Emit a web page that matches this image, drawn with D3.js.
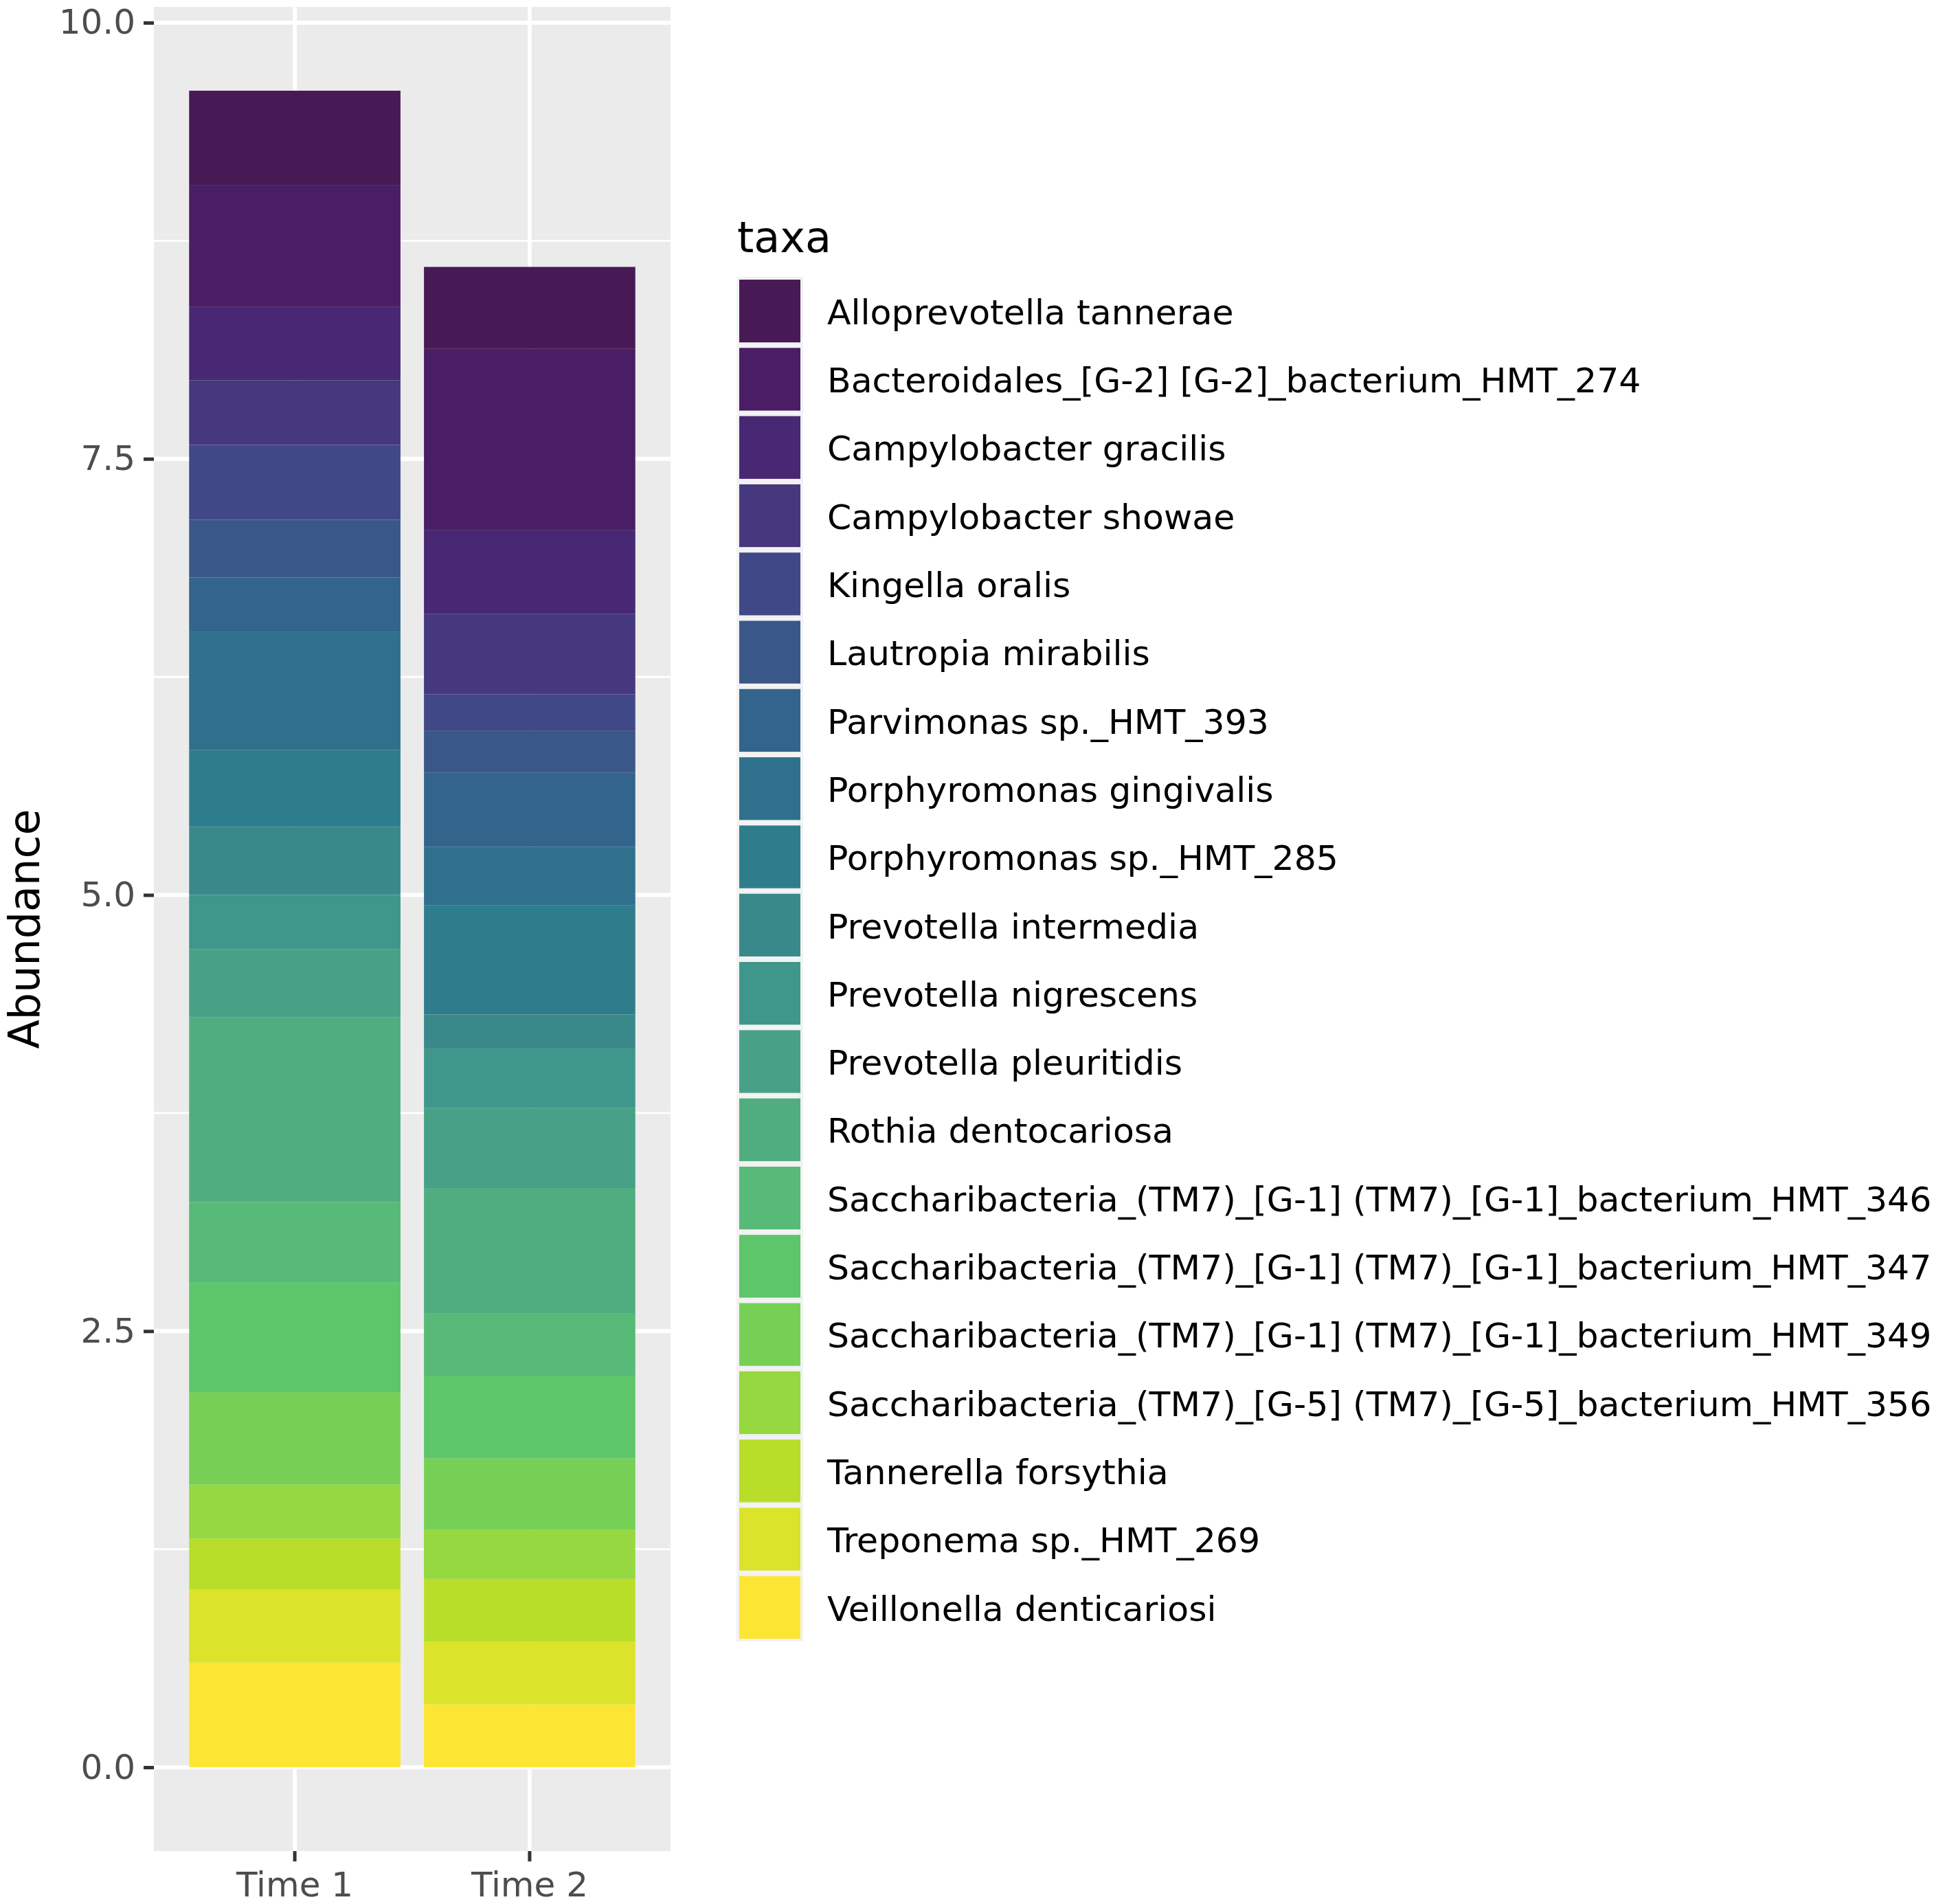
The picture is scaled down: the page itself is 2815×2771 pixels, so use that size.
<!DOCTYPE html>
<html>
<head>
<meta charset="utf-8">
<script src="https://cdn.jsdelivr.net/npm/d3@7"></script>
<style>
  html, body { margin: 0; padding: 0; background: #ffffff; }
  svg { display: block; font-family: "DejaVu Sans", sans-serif; }
</style>
</head>
<body>
<svg id="chart" width="2815" height="2771"></svg>
<script>
// ---------------- DATA ----------------
const taxa = [
  "Alloprevotella tannerae",
  "Bacteroidales_[G-2] [G-2]_bacterium_HMT_274",
  "Campylobacter gracilis",
  "Campylobacter showae",
  "Kingella oralis",
  "Lautropia mirabilis",
  "Parvimonas sp._HMT_393",
  "Porphyromonas gingivalis",
  "Porphyromonas sp._HMT_285",
  "Prevotella intermedia",
  "Prevotella nigrescens",
  "Prevotella pleuritidis",
  "Rothia dentocariosa",
  "Saccharibacteria_(TM7)_[G-1] (TM7)_[G-1]_bacterium_HMT_346",
  "Saccharibacteria_(TM7)_[G-1] (TM7)_[G-1]_bacterium_HMT_347",
  "Saccharibacteria_(TM7)_[G-1] (TM7)_[G-1]_bacterium_HMT_349",
  "Saccharibacteria_(TM7)_[G-5] (TM7)_[G-5]_bacterium_HMT_356",
  "Tannerella forsythia",
  "Treponema sp._HMT_269",
  "Veillonella denticariosi"
];
const times = ["Time 1", "Time 2"];
const time1Values = [0.54, 0.70, 0.42, 0.37, 0.43, 0.33, 0.31, 0.68, 0.44, 0.39,
                     0.31, 0.39, 1.06, 0.46, 0.63, 0.53, 0.31, 0.29, 0.42, 0.60];
const time2Values = [0.47, 1.04, 0.48, 0.46, 0.21, 0.24, 0.425, 0.335, 0.625, 0.195,
                     0.34, 0.46, 0.72, 0.355, 0.475, 0.41, 0.28, 0.36, 0.36, 0.36];
const yTicks = [0, 2.5, 5, 7.5, 10];
const yMinorTicks = [1.25, 3.75, 6.25, 8.75];
const yTitle = "Abundance";
const legendTitle = "taxa";

// palette (viridis-like, as rendered in the reference)
const palette = [
  "#481a55", "#4a1e65", "#482874", "#46387e", "#404887",
  "#3a578a", "#33648b", "#2f718c", "#2e7d8c", "#3a898a",
  "#3f968b", "#48a187", "#50ad80", "#57ba77", "#5dc56a",
  "#76d056", "#95d840", "#b8de29", "#dbe32a", "#fde633"
];

// ---------------- LAYOUT ----------------
const svg = d3.select("#chart");
const panel = { left: 224, right: 976, top: 10, bottom: 2694 };

const rows = times.map((t, i) => {
  const vals = i === 0 ? time1Values : time2Values;
  const r = { time: t };
  taxa.forEach((k, j) => r[k] = vals[j]);
  return r;
});

// ggplot stacks first level on top -> stack in reverse key order
const stack = d3.stack().keys(taxa.slice().reverse());
const series = stack(rows);

const maxTotal = d3.max(series[series.length - 1], d => d[1]);
const pad = maxTotal * 0.05;

const x = d3.scaleBand().domain(times)
  .range([panel.left, panel.right])
  .paddingInner(0.1).paddingOuter(0.15);
const y = d3.scaleLinear().domain([-pad, maxTotal + pad])
  .range([panel.bottom, panel.top]);

const color = d3.scaleOrdinal().domain(taxa).range(palette);

// panel background
svg.append("rect")
  .attr("x", panel.left).attr("y", panel.top)
  .attr("width", panel.right - panel.left).attr("height", panel.bottom - panel.top)
  .attr("fill", "#ebebeb");

// minor gridlines
svg.append("g").selectAll("line").data(yMinorTicks).join("line")
  .attr("x1", panel.left).attr("x2", panel.right)
  .attr("y1", d => y(d)).attr("y2", d => y(d))
  .attr("stroke", "#ffffff").attr("stroke-width", 2.9);

// major gridlines
svg.append("g").selectAll("line").data(yTicks).join("line")
  .attr("x1", panel.left).attr("x2", panel.right)
  .attr("y1", d => y(d)).attr("y2", d => y(d))
  .attr("stroke", "#ffffff").attr("stroke-width", 5.8);
svg.append("g").selectAll("line").data(times).join("line")
  .attr("y1", panel.top).attr("y2", panel.bottom)
  .attr("x1", d => x(d) + x.bandwidth() / 2).attr("x2", d => x(d) + x.bandwidth() / 2)
  .attr("stroke", "#ffffff").attr("stroke-width", 5.8);

// bars
svg.append("g").selectAll("g").data(series).join("g")
  .attr("fill", s => color(s.key))
  .selectAll("rect").data(s => s).join("rect")
  .attr("x", d => x(d.data.time))
  .attr("width", x.bandwidth())
  .attr("y", d => y(d[1]))
  .attr("height", d => y(d[0]) - y(d[1]));

// y axis
const yAxis = d3.axisLeft(y).tickValues(yTicks).tickFormat(d3.format(".1f"))
  .tickSize(15).tickPadding(12);
const gy = svg.append("g").attr("transform", `translate(${panel.left},0)`).call(yAxis);
gy.select(".domain").remove();
gy.selectAll(".tick line").attr("stroke", "#333333").attr("stroke-width", 5);
gy.selectAll(".tick text").attr("fill", "#4d4d4d")
  .style("font-size", "50px").style("font-family", "DejaVu Sans");

// x axis
const xAxis = d3.axisBottom(x).tickSize(15).tickPadding(12);
const gx = svg.append("g").attr("transform", `translate(0,${panel.bottom})`).call(xAxis);
gx.select(".domain").remove();
gx.selectAll(".tick line").attr("stroke", "#333333").attr("stroke-width", 5);
gx.selectAll(".tick text").attr("fill", "#4d4d4d")
  .attr("dy", null).attr("y", 66)
  .style("font-size", "50px").style("font-family", "DejaVu Sans");

// y title
svg.append("text")
  .attr("transform", `translate(57,${(panel.top + panel.bottom) / 2}) rotate(-90)`)
  .attr("text-anchor", "middle")
  .attr("fill", "#000000")
  .style("font-size", "62px")
  .text(yTitle);

// legend
const legend = { x: 1072, y: 403, keyW: 97, keyH: 99.3, inset: 4, labelX: 1204 };
svg.append("text")
  .attr("x", 1073).attr("y", 367)
  .attr("fill", "#000000").style("font-size", "62px")
  .text(legendTitle);

const lg = svg.append("g").selectAll("g").data(taxa).join("g")
  .attr("transform", (d, i) => `translate(${legend.x},${legend.y + i * legend.keyH})`);
lg.append("rect")
  .attr("width", legend.keyW).attr("height", legend.keyH)
  .attr("fill", "#f2f2f2");
lg.append("rect")
  .attr("x", legend.inset).attr("y", legend.inset)
  .attr("width", legend.keyW - 2 * legend.inset).attr("height", legend.keyH - 2 * legend.inset)
  .attr("fill", d => color(d));
lg.append("text")
  .attr("x", legend.labelX - legend.x).attr("y", legend.keyH / 2)
  .attr("dy", "0.38em")
  .attr("fill", "#000000").style("font-size", "50.5px")
  .text(d => d);
</script>
</body>
</html>
